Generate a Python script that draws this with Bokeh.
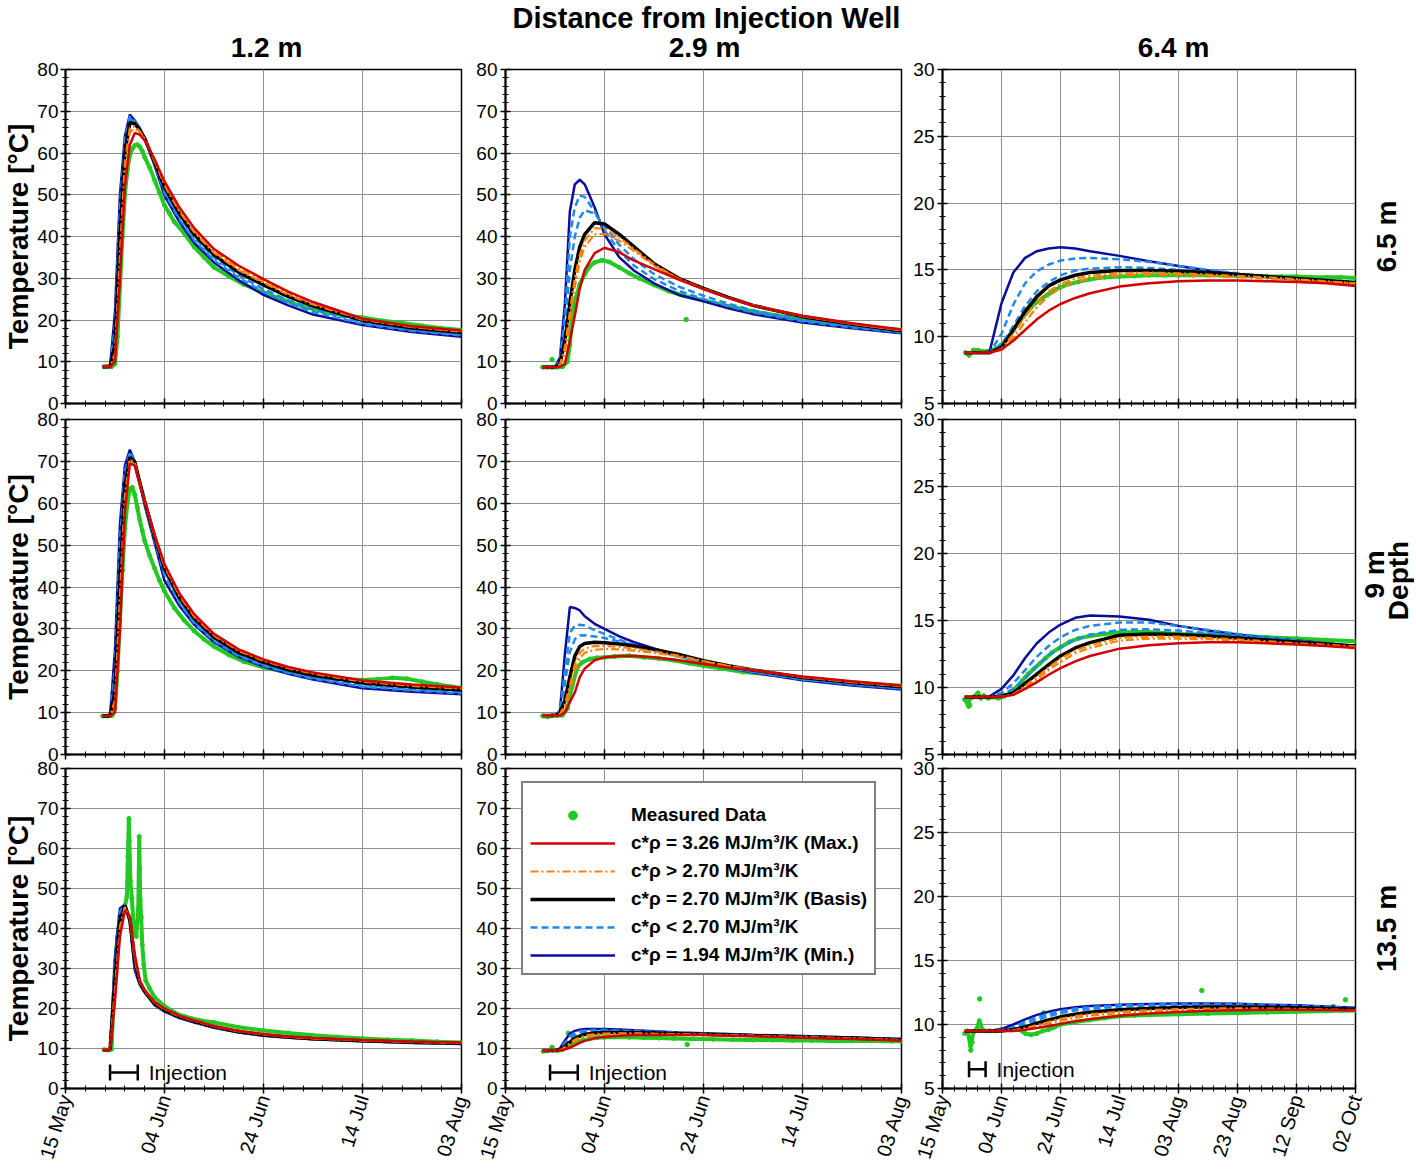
import math
from bokeh.plotting import figure
from bokeh.models import (ColumnDataSource, FixedTicker, Label, Legend, LegendItem,
                          Range1d, TeeHead, Whisker)
from bokeh.layouts import row, column
from bokeh.embed import file_html
from bokeh.resources import INLINE

# ---------------- data (days since 15 May, temperature in degC) ----------------
DAYS_NEAR = [7.5, 9, 10, 11, 12, 13, 14, 15, 16, 18, 20, 23, 26, 30, 35, 40, 45, 50, 60, 70, 80]
DAYS_FAR = [7.5, 12, 16, 20, 24, 28, 32, 36, 40, 45, 50, 60, 70, 80, 90, 100, 110, 120, 130, 140]

NEAR_TICKS = [0, 20, 40, 60, 80]
NEAR_TICK_LABELS = ["15 May", "04 Jun", "24 Jun", "14 Jul", "03 Aug"]
FAR_TICKS = [0, 20, 40, 60, 80, 100, 120, 140]
FAR_TICK_LABELS = ["15 May", "04 Jun", "24 Jun", "14 Jul", "03 Aug", "23 Aug", "12 Sep", "02 Oct"]

INJECTION = [9.0, 14.6]

TITLE = "Distance from Injection Well"
DISTANCES = ["1.2 m", "2.9 m", "6.4 m"]
DEPTHS = [["6.5 m"], ["9 m", "Depth"], ["13.5 m"]]
Y_LABEL = "Temperature [\u00b0C]"

# depth 6.5 m, distance 1.2 m
D65_R12_MAX = [8.8, 8.8, 10, 30, 52, 62, 64.8, 64.4, 63, 58.5, 53.2, 47, 42, 37, 33, 29.8, 26.8, 24.3, 20.3, 18.5, 17.5]
D65_R12_HI1 = [8.8, 8.8, 12, 36, 58, 66, 66.4, 65.2, 63.4, 58, 52.3, 46, 41, 36.1, 31.9, 28.9, 26.0, 23.7, 20.1, 18.3, 17.2]
D65_R12_HI2 = [8.8, 8.8, 11, 33, 56, 65, 65.8, 65, 63.3, 58.2, 52.7, 46.4, 41.4, 36.5, 32.4, 29.3, 26.4, 24.0, 20.2, 18.4, 17.3]
D65_R12_BASIS = [8.8, 8.8, 14, 40, 60, 67.3, 67, 65.5, 63.5, 57.8, 51.8, 45.5, 40.5, 35.6, 31.4, 28.4, 25.6, 23.4, 19.9, 18.1, 17.0]
D65_R12_LO1 = [8.8, 8.8, 17, 44, 62, 68.2, 67.4, 65.8, 63.5, 57.5, 51, 44.7, 39.7, 34.9, 30.7, 27.4, 24.7, 22.6, 19.4, 17.7, 16.6]
D65_R12_LO2 = [8.8, 8.8, 19, 47, 63, 68.8, 67.6, 65.9, 63.5, 57.3, 50.4, 44.1, 39.1, 34.3, 30.1, 26.7, 24.1, 21.9, 19.1, 17.4, 16.3]
D65_R12_MIN = [8.8, 8.8, 22, 50, 64, 69.2, 67.8, 66, 63.5, 57, 49.8, 43.5, 38.5, 33.8, 29.5, 26.0, 23.5, 21.3, 18.8, 17.1, 16.0]
D65_R12_MEAS_T = [7.8, 8.5, 9.3, 10, 10.5, 11, 11.5, 12, 12.5, 13, 13.5, 14, 14.5, 15, 15.5, 16, 17, 18, 19, 20,
                  21, 22, 24, 26, 28, 30, 33, 36, 40, 44, 48, 52, 56, 60, 64, 68, 72, 76, 80]
D65_R12_MEAS = [8.8, 8.9, 8.8, 9.5, 16, 28, 40, 50, 56, 59.5, 61, 61.8, 62, 61.5, 60.5, 59, 56.5, 53.5, 50.5, 47.5,
                45.5, 43.5, 40.7, 37.5, 35, 32.6, 30.5, 28.5, 26.6, 24.8, 23.2, 22, 21.2, 20.6, 19.8, 19.3, 18.6, 18, 17.6]
D65_R12_OUT_T = []
D65_R12_OUT = []

# depth 6.5 m, distance 2.9 m
D65_R29_MAX = [8.7, 8.7, 8.7, 8.8, 9.5, 15, 21, 27.5, 32, 36, 37.3, 36.2, 34.2, 32.2, 29.7, 27.4, 25.3, 23.4, 21.0, 19.2, 17.7]
D65_R29_HI1 = [8.7, 8.7, 8.7, 9.3, 13.5, 22, 30, 35.5, 39, 42, 41.8, 39.8, 37, 33.3, 29.9, 27.5, 25.3, 23.5, 20.9, 19.1, 17.5]
D65_R29_HI2 = [8.7, 8.7, 8.7, 9.1, 12, 20, 28, 34, 37.5, 40.5, 40.6, 39, 36.5, 33, 29.8, 27.4, 25.3, 23.5, 20.9, 19.1, 17.6]
D65_R29_BASIS = [8.7, 8.7, 8.7, 9.5, 15, 24, 32, 37.5, 40.5, 43.3, 43, 40.5, 37.5, 33.5, 30, 27.6, 25.4, 23.5, 20.8, 19, 17.4]
D65_R29_LO1 = [8.7, 8.7, 8.7, 10, 18, 32, 40, 44.5, 46.3, 45.5, 42.5, 38, 34.5, 31, 28, 25.8, 23.9, 22.3, 20, 18.5, 17.1]
D65_R29_LO2 = [8.7, 8.7, 8.8, 10.5, 21, 40, 47, 49.8, 49.5, 46, 41.5, 36.5, 33, 29.8, 27, 25, 23.3, 21.8, 19.7, 18.2, 17.0]
D65_R29_MIN = [8.7, 8.7, 8.8, 11, 24, 46, 52.5, 53.6, 52.5, 47, 40.5, 35, 31.8, 28.8, 26, 24.5, 22.8, 21.4, 19.4, 18, 16.8]
D65_R29_MEAS_T = [7.5, 8.5, 9.4, 10.5, 11.5, 12.5, 13, 13.5, 14, 15, 16, 17, 18, 19.5, 21, 23, 25, 27, 30, 33,
                  36, 40, 45, 50, 55, 60, 65, 70, 75, 80]
D65_R29_MEAS = [8.7, 8.7, 8.7, 8.7, 8.8, 10, 14, 21.5, 24.5, 28.5, 31, 32.8, 33.8, 34.3, 33.9, 32.6, 31.2, 30, 28.4, 26.9,
                25.8, 24.7, 23.3, 22.1, 21, 20.3, 19.5, 18.8, 18.1, 17.6]
D65_R29_OUT_T = [9.4, 36.5]
D65_R29_OUT = [10.5, 20.1]

# depth 6.5 m, distance 6.4 m
D65_R64_MAX = [8.8, 8.8, 8.8, 9.05, 9.7, 10.5, 11.3, 11.95, 12.45, 12.9, 13.25, 13.75, 14.0, 14.15, 14.2, 14.2, 14.15, 14.1, 14.0, 13.8]
D65_R64_HI1 = [8.8, 8.8, 8.8, 9.1, 10.2, 11.5, 12.6, 13.4, 13.95, 14.35, 14.55, 14.75, 14.8, 14.75, 14.65, 14.55, 14.45, 14.3, 14.15, 14.0]
D65_R64_HI2 = [8.8, 8.8, 8.8, 9.0, 9.9, 11.1, 12.2, 13.05, 13.65, 14.1, 14.35, 14.6, 14.65, 14.6, 14.55, 14.45, 14.35, 14.25, 14.1, 14.0]
D65_R64_BASIS = [8.8, 8.8, 8.8, 9.2, 10.5, 11.9, 13.0, 13.8, 14.25, 14.6, 14.8, 14.95, 14.95, 14.9, 14.8, 14.65, 14.5, 14.35, 14.2, 14.05]
D65_R64_LO1 = [8.8, 8.8, 8.8, 9.4, 10.8, 12.3, 13.4, 14.1, 14.6, 14.95, 15.1, 15.2, 15.15, 15.0, 14.8, 14.6, 14.45, 14.3, 14.1, 13.95]
D65_R64_LO2 = [8.8, 8.8, 8.8, 10.2, 12.4, 14.0, 14.9, 15.4, 15.7, 15.85, 15.9, 15.8, 15.6, 15.3, 15.0, 14.75, 14.5, 14.3, 14.1, 13.95]
D65_R64_MIN = [8.8, 8.8, 8.9, 12.5, 14.8, 15.9, 16.4, 16.6, 16.7, 16.6, 16.4, 16.05, 15.65, 15.3, 14.95, 14.7, 14.5, 14.3, 14.1, 13.95]
D65_R64_MEAS_T = [7.8, 9, 10.5, 12, 13.5, 15, 16.5, 18, 20, 22, 24, 26, 28, 30, 32, 34, 36, 38, 40, 43,
                  46, 50, 55, 60, 65, 70, 75, 80, 85, 90, 95, 100, 105, 110, 115, 120, 125, 130, 135, 140]
D65_R64_MEAS = [8.8, 8.6, 9.0, 9.0, 8.9, 8.9, 9.0, 9.1, 9.4, 9.9, 10.5, 11.1, 11.7, 12.2, 12.6, 12.9, 13.2, 13.5, 13.7, 13.95,
                14.1, 14.3, 14.45, 14.5, 14.55, 14.6, 14.6, 14.6, 14.6, 14.6, 14.6, 14.55, 14.55, 14.5, 14.5, 14.5, 14.45, 14.45, 14.45, 14.4]
D65_R64_OUT_T = []
D65_R64_OUT = []

# depth 9 m, distance 1.2 m
D90_R12_MAX = [9.2, 9.2, 10, 30, 58, 69.5, 69, 64.5, 60.5, 52.5, 45.5, 38.5, 33.5, 28.8, 25.1, 22.7, 20.9, 19.6, 17.7, 16.7, 16.0]
D90_R12_HI1 = [9.2, 9.2, 13, 38, 62, 70.5, 69.6, 64.8, 60.5, 52.2, 44.9, 37.9, 32.9, 28.4, 24.7, 22.4, 20.6, 19.3, 17.4, 16.4, 15.7]
D90_R12_HI2 = [9.2, 9.2, 11.5, 34, 60, 70, 69.3, 64.6, 60.5, 52.4, 45.2, 38.2, 33.2, 28.6, 24.9, 22.6, 20.8, 19.5, 17.6, 16.6, 15.9]
D90_R12_BASIS = [9.2, 9.2, 15, 42, 64, 71, 69.8, 65, 60.5, 52, 44.5, 37.5, 32.5, 28, 24.3, 22, 20.2, 18.9, 17.1, 16.1, 15.4]
D90_R12_LO1 = [9.2, 9.2, 18, 47, 66, 71.8, 69.9, 65, 60, 51.5, 43.8, 36.8, 31.8, 27.5, 23.8, 21.5, 19.7, 18.4, 16.6, 15.6, 14.9]
D90_R12_LO2 = [9.2, 9.2, 21, 51, 67.5, 72.3, 70, 65, 59.7, 51, 42.8, 36.2, 31.3, 27.1, 23.5, 21.2, 19.5, 18.1, 16.2, 15.3, 14.6]
D90_R12_MIN = [9.2, 9.2, 25, 55, 69, 72.8, 70, 65, 59.5, 50.5, 41.5, 35.5, 31, 26.8, 23.3, 21, 19.3, 17.9, 15.8, 15.0, 14.4]
D90_R12_MEAS_T = [7.5, 8.5, 9.4, 10, 10.5, 11, 11.5, 12, 12.5, 13, 13.5, 14, 14.5, 15, 15.5, 16, 17, 18, 19, 20,
                  22, 24, 26, 28, 30, 33, 36, 40, 45, 50, 55, 60, 63, 66, 69, 72, 75, 78, 80]
D90_R12_MEAS = [9.2, 9.2, 9.3, 11, 20, 32, 44, 54, 60, 63.5, 63.8, 62, 59, 56, 53.5, 51, 47.5, 44.5, 41.5, 39,
                35, 32, 29.5, 27.5, 25.8, 23.8, 22.2, 20.8, 19.6, 18.7, 18.1, 17.8, 18.0, 18.3, 18.1, 17.4, 16.8, 16.2, 15.9]
D90_R12_OUT_T = []
D90_R12_OUT = []

# depth 9 m, distance 2.9 m
D90_R29_MAX = [9.3, 9.3, 9.3, 9.3, 10, 12.5, 14.8, 18.5, 20.5, 22.5, 23.2, 23.5, 23.5, 23.2, 22.5, 21.6, 20.8, 20.1, 18.6, 17.5, 16.5]
D90_R29_HI1 = [9.3, 9.3, 9.3, 9.6, 12, 16.5, 21.5, 24.3, 25.3, 25.9, 25.9, 25.7, 25.3, 24.6, 23.6, 22.3, 21.2, 20.2, 18.5, 17.3, 16.3]
D90_R29_HI2 = [9.3, 9.3, 9.3, 9.5, 11.2, 15, 20, 23, 24.3, 25.0, 25.2, 25.1, 24.8, 24.3, 23.4, 22.2, 21.1, 20.2, 18.5, 17.3, 16.4]
D90_R29_BASIS = [9.3, 9.3, 9.3, 9.8, 13, 18.5, 23.5, 25.8, 26.5, 26.8, 26.7, 26.4, 25.9, 25.1, 23.9, 22.4, 21.2, 20.2, 18.4, 17.2, 16.2]
D90_R29_LO1 = [9.3, 9.3, 9.3, 10.1, 17, 24.5, 27.5, 28.4, 28.5, 28.2, 27.8, 27, 26, 24.8, 23.4, 22.0, 20.8, 19.8, 18.0, 16.8, 15.8]
D90_R29_LO2 = [9.3, 9.3, 9.3, 10.3, 20, 29, 30.8, 31, 30.8, 29.7, 28.8, 27.4, 26.2, 24.9, 23.4, 21.9, 20.7, 19.7, 17.9, 16.7, 15.7]
D90_R29_MIN = [9.3, 9.3, 9.3, 10.5, 24, 35.2, 35, 34.4, 33, 31.2, 30, 28.2, 26.8, 25.3, 23.5, 22, 20.7, 19.6, 17.7, 16.5, 15.5]
D90_R29_MEAS_T = [7.5, 8.5, 9.5, 10.5, 11.5, 12.5, 13.5, 14.5, 15.5, 17, 18.5, 20, 22, 25, 28, 31, 34, 37, 40, 44,
                  48, 52, 56, 60, 65, 70, 75, 80]
D90_R29_MEAS = [9.2, 9.0, 9.3, 9.3, 9.4, 11, 16.5, 20.8, 22, 22.8, 23.1, 23.2, 23.4, 23.6, 23.2, 22.9, 22.5, 21.8, 21.2, 20.5,
                19.7, 19.3, 18.8, 18.1, 17.7, 17.2, 16.8, 16.4]
D90_R29_OUT_T = []
D90_R29_OUT = []

# depth 9 m, distance 6.4 m
D90_R64_MAX = [9.3, 9.3, 9.3, 9.3, 9.45, 9.9, 10.4, 10.95, 11.45, 11.95, 12.35, 12.9, 13.15, 13.3, 13.38, 13.38, 13.3, 13.2, 13.1, 12.95]
D90_R64_HI1 = [9.3, 9.3, 9.3, 9.3, 9.5, 10.1, 10.8, 11.5, 12.15, 12.75, 13.15, 13.7, 13.8, 13.8, 13.7, 13.6, 13.45, 13.3, 13.2, 13.05]
D90_R64_HI2 = [9.3, 9.3, 9.3, 9.3, 9.45, 9.95, 10.6, 11.3, 11.9, 12.55, 12.95, 13.5, 13.65, 13.65, 13.6, 13.5, 13.35, 13.25, 13.1, 13.0]
D90_R64_BASIS = [9.3, 9.3, 9.3, 9.35, 9.6, 10.3, 11.0, 11.7, 12.35, 12.95, 13.35, 13.9, 14.0, 13.95, 13.85, 13.7, 13.55, 13.4, 13.25, 13.1]
D90_R64_LO1 = [9.3, 9.3, 9.3, 9.45, 9.9, 10.7, 11.6, 12.4, 13.0, 13.6, 13.95, 14.3, 14.35, 14.25, 14.05, 13.85, 13.65, 13.45, 13.3, 13.1]
D90_R64_LO2 = [9.3, 9.3, 9.3, 9.6, 10.3, 11.3, 12.3, 13.1, 13.75, 14.3, 14.6, 14.85, 14.85, 14.6, 14.3, 14.0, 13.75, 13.5, 13.3, 13.1]
D90_R64_MIN = [9.3, 9.3, 9.35, 9.9, 10.9, 12.2, 13.3, 14.1, 14.7, 15.2, 15.37, 15.3, 15.05, 14.6, 14.25, 13.95, 13.7, 13.5, 13.3, 13.06]
D90_R64_MEAS_T = [7.5, 8.5, 9.5, 10.5, 12, 13, 14, 15.5, 17, 19, 21, 23, 25, 27, 29, 31, 33, 35, 37, 40,
                  43, 46, 50, 55, 60, 65, 70, 80, 90, 100, 110, 120, 130, 140]
D90_R64_MEAS = [9.1, 8.8, 9.2, 9.3, 9.6, 9.2, 9.4, 9.2, 9.3, 9.2, 9.35, 9.6, 10.0, 10.5, 11.0, 11.4, 11.8, 12.2, 12.6, 13.0,
                13.4, 13.65, 13.85, 14.0, 14.1, 14.15, 14.15, 14.0, 13.95, 13.85, 13.75, 13.65, 13.55, 13.45]
D90_R64_OUT_T = [8.9, 9.2]
D90_R64_OUT = [8.6, 8.7]

# depth 13.5 m, distance 1.2 m
D135_R12_MAX = [9.7, 9.7, 22, 38, 44.5, 43, 33.5, 27, 24.6, 21.6, 20.0, 18.2, 17.0, 15.6, 14.4, 13.6, 13.0, 12.6, 12.1, 11.7, 11.5]
D135_R12_HI1 = [9.7, 9.7, 25, 40.5, 45.4, 42.6, 32.2, 26.8, 24.4, 21.4, 19.8, 18.0, 16.9, 15.5, 14.3, 13.5, 12.9, 12.5, 12.0, 11.6, 11.4]
D135_R12_HI2 = [9.7, 9.7, 23.5, 39.5, 45.1, 42.8, 32.8, 26.9, 24.5, 21.5, 19.9, 18.1, 17.0, 15.6, 14.35, 13.55, 12.95, 12.55, 12.05, 11.65, 11.45]
D135_R12_BASIS = [9.7, 9.7, 27, 42, 45.7, 42.3, 31.5, 26.6, 24.3, 21.2, 19.6, 17.9, 16.8, 15.4, 14.2, 13.4, 12.85, 12.45, 11.95, 11.55, 11.3]
D135_R12_LO1 = [9.7, 9.7, 29.5, 43.3, 45.9, 42.0, 30.8, 26.4, 24.2, 21.0, 19.4, 17.8, 16.7, 15.3, 14.1, 13.3, 12.8, 12.4, 11.9, 11.5, 11.2]
D135_R12_LO2 = [9.7, 9.7, 31, 44.2, 46, 41.8, 30.2, 26.2, 24.1, 20.9, 19.3, 17.7, 16.6, 15.25, 14.05, 13.25, 12.75, 12.35, 11.85, 11.45, 11.15]
D135_R12_MIN = [9.7, 9.7, 33, 45, 46, 41.5, 29.5, 26, 24, 20.8, 19.2, 17.6, 16.5, 15.2, 14.0, 13.2, 12.7, 12.3, 11.8, 11.4, 11.1]
D135_R12_MEAS_T = [7.8, 8.5, 9.3, 10, 10.5, 11, 11.5, 12, 12.4, 12.6, 12.8, 12.9, 13.1, 13.4, 13.8, 14.3, 14.7, 14.9, 15.0, 15.1,
                   15.3, 15.5, 15.8, 16.2, 17, 18, 19, 20, 22, 24, 27, 30, 35, 40, 45, 50, 55, 60, 65, 70, 75, 80]
D135_R12_MEAS = [9.7, 9.6, 9.8, 30, 38, 43, 45, 45.5, 48, 58, 67.5, 62, 52, 47.5, 40, 38, 45, 63, 55, 47,
                 42.8, 36, 31, 27, 25, 22.8, 21.6, 20.6, 19.0, 18.0, 17.1, 16.5, 15.3, 14.5, 13.9, 13.3, 12.9, 12.5, 12.2, 12.0, 11.7, 11.5]
D135_R12_OUT_T = []
D135_R12_OUT = []

# depth 13.5 m, distance 2.9 m
D135_R29_MAX = [9.5, 9.5, 9.5, 9.5, 9.8, 10.2, 10.8, 11.4, 11.9, 12.6, 12.9, 13.2, 13.35, 13.4, 13.4, 13.35, 13.2, 13.05, 12.7, 12.4, 12.0]
D135_R29_HI1 = [9.5, 9.5, 9.5, 9.55, 10.3, 11.3, 12.2, 12.8, 13.2, 13.6, 13.75, 13.8, 13.8, 13.7, 13.6, 13.5, 13.35, 13.2, 12.85, 12.55, 12.15]
D135_R29_HI2 = [9.5, 9.5, 9.5, 9.5, 10.1, 11.0, 11.8, 12.4, 12.9, 13.35, 13.55, 13.65, 13.65, 13.6, 13.5, 13.4, 13.3, 13.15, 12.8, 12.5, 12.1]
D135_R29_BASIS = [9.5, 9.5, 9.5, 9.6, 10.5, 11.6, 12.5, 13.1, 13.5, 13.9, 14.0, 14.0, 13.95, 13.85, 13.7, 13.55, 13.4, 13.25, 12.9, 12.6, 12.2]
D135_R29_LO1 = [9.5, 9.5, 9.5, 9.7, 11.0, 12.4, 13.3, 13.8, 14.1, 14.3, 14.35, 14.3, 14.2, 14.05, 13.85, 13.65, 13.5, 13.3, 13.0, 12.7, 12.3]
D135_R29_LO2 = [9.5, 9.5, 9.5, 9.85, 11.5, 13.1, 13.9, 14.3, 14.5, 14.6, 14.6, 14.5, 14.35, 14.15, 13.95, 13.75, 13.55, 13.35, 13.05, 12.7, 12.35]
D135_R29_MIN = [9.5, 9.5, 9.5, 10, 12, 13.7, 14.4, 14.7, 14.85, 14.9, 14.9, 14.75, 14.55, 14.3, 14.0, 13.8, 13.6, 13.4, 13.1, 12.75, 12.4]
D135_R29_MEAS_T = [7.6, 8.5, 9.5, 10.5, 11.5, 12.5, 13.5, 14.5, 15.5, 17, 18.5, 20, 22, 25, 28, 31, 34, 38, 42, 46,
                   50, 54, 58, 62, 66, 70, 74, 78, 80]
D135_R29_MEAS = [9.3, 9.4, 9.6, 9.5, 9.7, 10.3, 10.9, 11.5, 12.0, 12.4, 12.7, 12.8, 12.9, 12.8, 12.7, 12.6, 12.5, 12.4, 12.3, 12.2,
                 12.1, 12.1, 12.0, 12.0, 11.9, 11.9, 11.9, 11.8, 11.8]
D135_R29_OUT_T = [9.4, 12.7, 36.7]
D135_R29_OUT = [10.3, 13.8, 11.0]

# depth 13.5 m, distance 6.4 m
D135_R64_MAX = [9.5, 9.5, 9.5, 9.5, 9.5, 9.58, 9.72, 9.88, 10.05, 10.25, 10.42, 10.68, 10.85, 10.98, 11.07, 11.12, 11.15, 11.15, 11.13, 11.1]
D135_R64_HI1 = [9.5, 9.5, 9.5, 9.5, 9.55, 9.72, 9.95, 10.2, 10.45, 10.65, 10.8, 11.0, 11.12, 11.2, 11.25, 11.27, 11.25, 11.22, 11.18, 11.13]
D135_R64_HI2 = [9.5, 9.5, 9.5, 9.5, 9.52, 9.65, 9.85, 10.08, 10.3, 10.52, 10.68, 10.9, 11.02, 11.1, 11.15, 11.18, 11.17, 11.15, 11.12, 11.08]
D135_R64_BASIS = [9.5, 9.5, 9.5, 9.5, 9.6, 9.8, 10.1, 10.35, 10.6, 10.8, 10.95, 11.15, 11.25, 11.33, 11.37, 11.37, 11.35, 11.3, 11.25, 11.2]
D135_R64_LO1 = [9.5, 9.5, 9.5, 9.5, 9.7, 10.0, 10.35, 10.65, 10.9, 11.1, 11.2, 11.4, 11.45, 11.5, 11.5, 11.5, 11.45, 11.4, 11.33, 11.25]
D135_R64_LO2 = [9.5, 9.5, 9.5, 9.55, 9.8, 10.2, 10.55, 10.85, 11.05, 11.25, 11.35, 11.5, 11.55, 11.6, 11.6, 11.58, 11.52, 11.47, 11.38, 11.28]
D135_R64_MIN = [9.5, 9.5, 9.5, 9.65, 10.0, 10.4, 10.75, 11.0, 11.2, 11.35, 11.45, 11.55, 11.6, 11.65, 11.65, 11.62, 11.55, 11.5, 11.4, 11.3]
D135_R64_MEAS_T = [7.5, 8.5, 9.5, 10.5, 11.5, 12.5, 13.5, 14.5, 16, 18, 20, 22, 24, 26, 28, 30, 32, 34, 36, 38,
                   40, 45, 50, 55, 60, 65, 70, 80, 90, 100, 110, 120, 130, 140]
D135_R64_MEAS = [9.3, 9.5, 8.3, 9.4, 9.6, 10.3, 9.6, 9.5, 9.5, 9.5, 9.6, 9.7, 9.7, 9.6, 9.3, 9.2, 9.3, 9.5, 9.6, 9.8,
                 10.0, 10.2, 10.35, 10.5, 10.65, 10.7, 10.75, 10.8, 10.85, 10.9, 10.95, 11.0, 11.05, 11.1]
D135_R64_OUT_T = [9.6, 10.0, 12.6, 34.3, 87.9, 132.5, 136.6]
D135_R64_OUT = [8.0, 8.6, 12.0, 10.9, 12.66, 11.4, 11.93]

LEGEND_LABELS = ["Measured Data",
                 "c*\u03c1 = 3.26 MJ/m\u00b3/K (Max.)",
                 "c*\u03c1 > 2.70 MJ/m\u00b3/K",
                 "c*\u03c1 = 2.70 MJ/m\u00b3/K (Basis)",
                 "c*\u03c1 < 2.70 MJ/m\u00b3/K",
                 "c*\u03c1 = 1.94 MJ/m\u00b3/K (Min.)"]

# ---------------- panel table built from the arrays ----------------
def panel(maxv, hi1, hi2, basis, lo1, lo2, minv, mt, mv, ot, ov):
    return dict(max=maxv, hi1=hi1, hi2=hi2, basis=basis, lo1=lo1, lo2=lo2, min=minv,
                meas_t=mt, meas=mv, out_t=ot, out=ov)

PANELS = [
    [panel(D65_R12_MAX, D65_R12_HI1, D65_R12_HI2, D65_R12_BASIS, D65_R12_LO1, D65_R12_LO2, D65_R12_MIN,
           D65_R12_MEAS_T, D65_R12_MEAS, D65_R12_OUT_T, D65_R12_OUT),
     panel(D65_R29_MAX, D65_R29_HI1, D65_R29_HI2, D65_R29_BASIS, D65_R29_LO1, D65_R29_LO2, D65_R29_MIN,
           D65_R29_MEAS_T, D65_R29_MEAS, D65_R29_OUT_T, D65_R29_OUT),
     panel(D65_R64_MAX, D65_R64_HI1, D65_R64_HI2, D65_R64_BASIS, D65_R64_LO1, D65_R64_LO2, D65_R64_MIN,
           D65_R64_MEAS_T, D65_R64_MEAS, D65_R64_OUT_T, D65_R64_OUT)],
    [panel(D90_R12_MAX, D90_R12_HI1, D90_R12_HI2, D90_R12_BASIS, D90_R12_LO1, D90_R12_LO2, D90_R12_MIN,
           D90_R12_MEAS_T, D90_R12_MEAS, D90_R12_OUT_T, D90_R12_OUT),
     panel(D90_R29_MAX, D90_R29_HI1, D90_R29_HI2, D90_R29_BASIS, D90_R29_LO1, D90_R29_LO2, D90_R29_MIN,
           D90_R29_MEAS_T, D90_R29_MEAS, D90_R29_OUT_T, D90_R29_OUT),
     panel(D90_R64_MAX, D90_R64_HI1, D90_R64_HI2, D90_R64_BASIS, D90_R64_LO1, D90_R64_LO2, D90_R64_MIN,
           D90_R64_MEAS_T, D90_R64_MEAS, D90_R64_OUT_T, D90_R64_OUT)],
    [panel(D135_R12_MAX, D135_R12_HI1, D135_R12_HI2, D135_R12_BASIS, D135_R12_LO1, D135_R12_LO2, D135_R12_MIN,
           D135_R12_MEAS_T, D135_R12_MEAS, D135_R12_OUT_T, D135_R12_OUT),
     panel(D135_R29_MAX, D135_R29_HI1, D135_R29_HI2, D135_R29_BASIS, D135_R29_LO1, D135_R29_LO2, D135_R29_MIN,
           D135_R29_MEAS_T, D135_R29_MEAS, D135_R29_OUT_T, D135_R29_OUT),
     panel(D135_R64_MAX, D135_R64_HI1, D135_R64_HI2, D135_R64_BASIS, D135_R64_LO1, D135_R64_LO2, D135_R64_MIN,
           D135_R64_MEAS_T, D135_R64_MEAS, D135_R64_OUT_T, D135_R64_OUT)],
]

# ---------------- styling / layout ----------------
FONT = "Liberation Sans"
C_MEAS = "#22C922"
C_MAX = "#D20000"
C_HI = "#FF8000"
C_BASIS = "#000000"
C_LO = "#1E88F0"
C_MIN = "#0C0C9C"
GRID = "#8f8f8f"

PAGE_W = 1414
HEADER_H = 62
COL_GEOM = [dict(width=475, left=63, right=14, mleft=0),
            dict(width=467, left=60, right=11, mleft=-30),
            dict(width=495, left=60, right=22, mleft=-30)]
ROW_GEOM = [dict(height=365, top=19, bottom=12, mtop=-12),
            dict(height=363, top=16, bottom=12, mtop=-12),
            dict(height=414, top=14, bottom=80, mtop=-12)]
ROW_FRAMES = [(69, 403), (419, 754), (768, 1088)]   # page y of frame top / bottom
LAB_X0, LAB_W, LAB_MLEFT = 1357, 57, -20
DEPTH_LABEL_POS = [[(1386, 236)], [(1374, 574), (1398, 580)], [(1386, 928)]]


def text_label(x, y, text, size, bold=True, angle=0.0, align="center"):
    return Label(x=x, y=y, text=text, angle=angle, text_align=align, text_baseline="middle",
                 text_font=FONT, text_font_style="bold" if bold else "normal",
                 text_font_size=size, text_color="black")


def blank_fig(width, height, xr, yr, top=0, bottom=0, margin=(0, 0, 0, 0)):
    f = figure(width=width, height=height, x_range=Range1d(*xr), y_range=Range1d(*yr),
               x_axis_type=None, y_axis_type=None, output_backend="svg", toolbar_location=None,
               tools="", title=None, min_border_left=0, min_border_right=0,
               min_border_top=top, min_border_bottom=bottom, margin=margin,
               background_fill_color=None, border_fill_color=None, outline_line_color=None)
    return f


def make_panel(ri, ci):
    d = PANELS[ri][ci]
    cg, rg = COL_GEOM[ci], ROW_GEOM[ri]
    far = ci == 2
    days = DAYS_FAR if far else DAYS_NEAR
    xr = (0, 140) if far else (0, 80)
    yr = (5, 30) if far else (0, 80)
    p = figure(width=cg["width"], height=rg["height"], x_range=Range1d(*xr), y_range=Range1d(*yr),
               output_backend="svg", toolbar_location=None, tools="", title=None,
               min_border_left=cg["left"], min_border_right=cg["right"],
               min_border_top=rg["top"], min_border_bottom=rg["bottom"],
               margin=(rg["mtop"], 0, 0, cg["mleft"]), background_fill_color="white",
               border_fill_color=None, outline_line_color="black", outline_line_width=1.5)

    ticks = FAR_TICKS if far else NEAR_TICKS
    labels = FAR_TICK_LABELS if far else NEAR_TICK_LABELS
    p.xaxis.ticker = FixedTicker(ticks=ticks, minor_ticks=list(range(0, xr[1] + 1, 4)))
    p.xaxis.major_label_overrides = {t: l for t, l in zip(ticks, labels)}
    if far:
        p.yaxis.ticker = FixedTicker(ticks=list(range(5, 31, 5)), minor_ticks=list(range(5, 31, 1)))
    else:
        p.yaxis.ticker = FixedTicker(ticks=list(range(0, 81, 10)), minor_ticks=list(range(0, 81, 2)))

    for ax in (p.xaxis[0], p.yaxis[0]):
        ax.axis_line_width = 2
        ax.axis_line_color = "black"
        ax.major_tick_line_width = 1.5
        ax.major_tick_line_color = "black"
        ax.major_tick_in = 5
        ax.major_tick_out = 5
        ax.minor_tick_in = 3
        ax.minor_tick_out = 3
        ax.minor_tick_line_color = "black"
        ax.major_label_text_font = FONT
        ax.major_label_text_font_size = "19px"
        ax.major_label_text_color = "black"
        ax.major_label_standoff = 3
    if ri == 2:
        p.xaxis.major_label_orientation = 1.27
        p.xaxis.major_label_standoff = 2
        p.xaxis.major_label_text_font_size = "20px"
    else:
        p.xaxis.major_label_text_color = None
        p.xaxis.major_label_standoff = 0
    if ci == 0:
        p.yaxis.major_label_standoff = 2
        p.yaxis.axis_label = Y_LABEL
        p.yaxis.axis_label_text_font = FONT
        p.yaxis.axis_label_text_font_style = "bold"
        p.yaxis.axis_label_text_font_size = "28px"
        p.yaxis.axis_label_text_color = "black"
        p.yaxis.axis_label_standoff = 0

    p.xgrid.grid_line_color = GRID
    p.ygrid.grid_line_color = GRID
    p.xgrid.grid_line_width = 1
    p.ygrid.grid_line_width = 1

    # measured data
    p.line(d["meas_t"], d["meas"], line_color=C_MEAS, line_width=4, line_join="round", line_cap="round")
    r_meas = p.scatter(d["meas_t"], d["meas"], size=4, color=C_MEAS)
    if d["out_t"]:
        p.scatter(d["out_t"], d["out"], size=4.5, color=C_MEAS)

    # model curves
    r_min = p.line(days, d["min"], line_color=C_MIN, line_width=2.5)
    r_lo = p.line(days, d["lo2"], line_color=C_LO, line_width=2.5, line_dash="7 4")
    p.line(days, d["lo1"], line_color=C_LO, line_width=2.5, line_dash="7 4")
    r_basis = p.line(days, d["basis"], line_color=C_BASIS, line_width=3.5)
    r_hi = p.line(days, d["hi1"], line_color=C_HI, line_width=2.2, line_dash="8 3 2 3")
    p.line(days, d["hi2"], line_color=C_HI, line_width=2.2, line_dash="8 3 2 3")
    r_max = p.line(days, d["max"], line_color=C_MAX, line_width=2.5)

    # injection marker
    if ri == 2:
        iy = 6.5 if far else 4.0
        src = ColumnDataSource(dict(base=[iy], lower=[INJECTION[0]], upper=[INJECTION[1]]))
        p.add_layout(Whisker(source=src, base="base", lower="lower", upper="upper", dimension="width",
                             line_color="black", line_width=2.5,
                             upper_head=TeeHead(size=16, line_width=2.5, line_color="black"),
                             lower_head=TeeHead(size=16, line_width=2.5, line_color="black")))
        p.add_layout(Label(x=INJECTION[1], y=iy, x_offset=11, text="Injection", text_baseline="middle",
                           text_align="left", text_font=FONT, text_font_size="21px", text_color="black"))

    # legend
    if ri == 2 and ci == 1:
        items = [LegendItem(label=LEGEND_LABELS[0], renderers=[r_meas]),
                 LegendItem(label=LEGEND_LABELS[1], renderers=[r_max]),
                 LegendItem(label=LEGEND_LABELS[2], renderers=[r_hi]),
                 LegendItem(label=LEGEND_LABELS[3], renderers=[r_basis]),
                 LegendItem(label=LEGEND_LABELS[4], renderers=[r_lo]),
                 LegendItem(label=LEGEND_LABELS[5], renderers=[r_min])]
        leg = Legend(items=items, location=(16, 113), margin=0, padding=7, spacing=6,
                     glyph_width=85, glyph_height=22, label_height=22, label_standoff=16,
                     label_text_font=FONT, label_text_font_style="bold", label_text_font_size="19px",
                     label_text_color="black", border_line_color="black", border_line_width=2,
                     background_fill_color="white", background_fill_alpha=1.0,
                     title=" ", title_text_font_size="10px", title_standoff=3)
        p.add_layout(leg)
    return p


def make_depth_label(ri):
    rg = ROW_GEOM[ri]
    top_y, bot_y = ROW_FRAMES[ri]
    f = blank_fig(LAB_W, rg["height"], (LAB_X0, LAB_X0 + LAB_W), (bot_y, top_y),
                  top=rg["top"], bottom=rg["bottom"], margin=(rg["mtop"], 0, 0, LAB_MLEFT))
    for txt, (x, y) in zip(DEPTHS[ri], DEPTH_LABEL_POS[ri]):
        f.add_layout(text_label(x, y, txt, "28px", angle=math.pi / 2))
    return f


# header with title and column headings
header = blank_fig(PAGE_W, HEADER_H, (0, PAGE_W), (HEADER_H, 0))
header.add_layout(text_label(706, 17, TITLE, "29px"))
header.add_layout(text_label(266, 47, DISTANCES[0], "28px"))
header.add_layout(text_label(704, 47, DISTANCES[1], "28px"))
header.add_layout(text_label(1173, 47, DISTANCES[2], "28px"))

rows = [header]
for ri in range(3):
    rows.append(row(*([make_panel(ri, ci) for ci in range(3)] + [make_depth_label(ri)]), spacing=0))
layout = column(*rows, spacing=0)

open("out.html", "w").write(file_html(layout, INLINE))
